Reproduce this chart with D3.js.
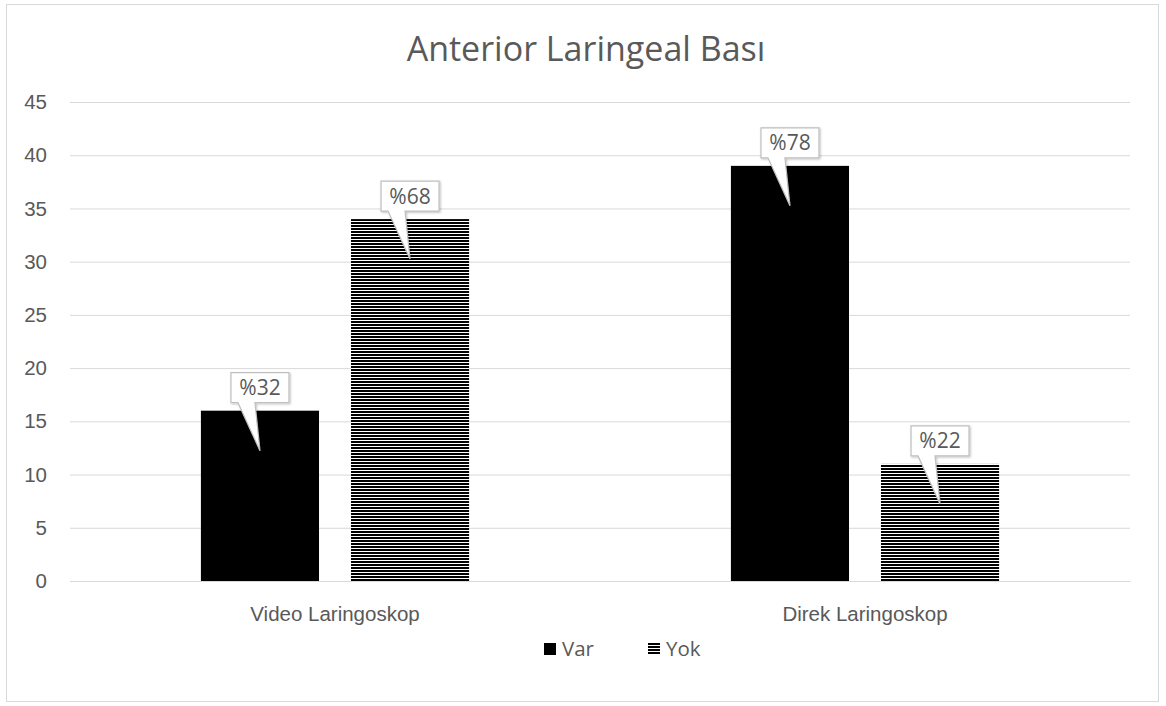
<!DOCTYPE html>
<html>
<head>
<meta charset="utf-8">
<script src="https://cdn.jsdelivr.net/npm/d3@7"></script>
<style>
  body { margin: 0; background: #fff; }
  svg { font-family: "Open Sans", "Noto Sans", sans-serif; }
</style>
</head>
<body>
<svg></svg>
<script>
let categories = ['Video Laringoskop', 'Direk Laringoskop']
let seriesNames = ['Var', 'Yok']
let varValues = [16, 39]
let yokValues = [34, 11]
let varLabels = ['%32', '%78']
let yokLabels = ['%68', '%22']
let yTicks = [0, 5, 10, 15, 20, 25, 30, 35, 40, 45]

let width = 1166
let height = 706
let plotLeft = 70
let plotRight = 1130
let plotTop = 102
let plotBottom = 581

let svg = d3.select('svg')
    .attr('width', width)
    .attr('height', height)

// frame
svg.append('rect')
   .attr('x', 6.5).attr('y', 4.5)
   .attr('width', 1152).attr('height', 697)
   .attr('fill', '#fff')
   .attr('stroke', '#d9d9d9')

let defs = svg.append('defs')
let pat = defs.append('pattern')
    .attr('id', 'hatch')
    .attr('patternUnits', 'userSpaceOnUse')
    .attr('width', 8).attr('height', 3)
pat.append('rect').attr('width', 8).attr('height', 3).attr('fill', '#fff')
pat.append('rect').attr('width', 8).attr('height', 2).attr('fill', '#000')

let shadow = defs.append('filter').attr('id', 'shadow')
    .attr('x', '-20%').attr('y', '-20%').attr('width', '150%').attr('height', '150%')
shadow.append('feDropShadow')
      .attr('dx', 1).attr('dy', 1).attr('stdDeviation', 1)
      .attr('flood-color', '#000').attr('flood-opacity', 0.25)

let x0 = d3.scaleBand().domain(categories).range([plotLeft, plotRight])
let bw = x0.bandwidth()
let x1 = d3.scaleBand().domain(seriesNames).range([bw * 0.247, bw * 0.753]).paddingInner(0.213)
let y = d3.scaleLinear().domain([0, 45]).range([plotBottom, plotTop])

// title
svg.append('text')
   .attr('x', 586).attr('y', 61)
   .attr('text-anchor', 'middle')
   .attr('font-size', 34)
   .attr('fill', '#595959')
   .text('Anterior Laringeal Bası')

// grid
let yAxis = d3.axisLeft(y).tickValues(yTicks).tickSize(-(plotRight - plotLeft)).tickPadding(23)
let gy = svg.append('g')
   .attr('transform', 'translate(' + plotLeft + ',0)')
   .call(yAxis)
gy.select('.domain').remove()
gy.selectAll('line').attr('stroke', '#d9d9d9')
gy.selectAll('text').attr('font-size', 20.5).attr('fill', '#595959').attr('font-family', 'inherit')

// x axis
let xAxis = d3.axisBottom(x0).tickSize(0).tickPadding(25)
let gx = svg.append('g')
   .attr('transform', 'translate(0,' + plotBottom + ')')
   .call(xAxis)
gx.select('.domain').attr('stroke', '#d9d9d9')
gx.selectAll('text').attr('font-size', 20.5).attr('fill', '#595959').attr('font-family', 'inherit')

let rows = categories.map((c, i) => ({
    cat: c,
    bars: [
        {name: 'Var', value: varValues[i], label: varLabels[i]},
        {name: 'Yok', value: yokValues[i], label: yokLabels[i]}
    ]
}))

let groups = svg.selectAll('.grp')
    .data(rows)
    .enter()
    .append('g')
    .attr('class', 'grp')
    .attr('transform', d => 'translate(' + x0(d.cat) + ',0)')

groups.selectAll('rect')
    .data(d => d.bars)
    .enter()
    .append('rect')
    .attr('x', d => x1(d.name))
    .attr('y', d => y(d.value))
    .attr('width', x1.bandwidth())
    .attr('height', d => plotBottom - y(d.value))
    .attr('fill', d => d.name == 'Var' ? '#000' : 'url(#hatch)')

// callouts
let callouts = groups.selectAll('.callout')
    .data(d => d.bars)
    .enter()
    .append('g')
    .attr('class', 'callout')
    .attr('transform', d => 'translate(' + (x1(d.name) + x1.bandwidth() / 2) + ',' + y(d.value) + ')')

callouts.append('path')
    .attr('d', 'M-29,-38 H29 V-8 H-5 L0,40 L-22,-8 H-29 Z')
    .attr('fill', '#fff')
    .attr('stroke', '#bfbfbf')
    .attr('stroke-width', 1.2)
    .attr('filter', 'url(#shadow)')

callouts.append('text')
    .attr('y', -15.5)
    .attr('text-anchor', 'middle')
    .attr('font-size', 21)
    .attr('fill', '#595959')
    .text(d => d.label)

// legend
let legend = svg.append('g').attr('transform', 'translate(544,649)')
legend.append('rect').attr('x', 0).attr('y', -6).attr('width', 12).attr('height', 12).attr('fill', '#000')
legend.append('text').attr('x', 18).attr('y', 7).attr('font-size', 20.5).attr('fill', '#595959').text('Var')
legend.append('rect').attr('x', 104).attr('y', -6).attr('width', 12).attr('height', 12).attr('fill', 'url(#hatch)')
legend.append('text').attr('x', 122).attr('y', 7).attr('font-size', 20.5).attr('fill', '#595959').text('Yok')
</script>
</body>
</html>
